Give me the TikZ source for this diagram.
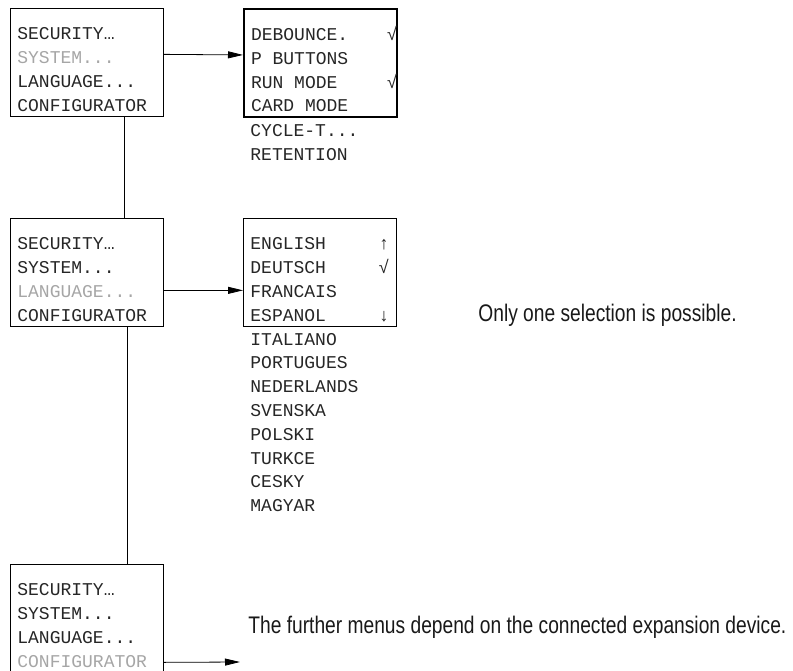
\documentclass[tikz,border=0pt]{standalone}
\usepackage{fontspec}
\usetikzlibrary{positioning,arrows.meta}
\newfontfamily\lcdfont{Liberation Mono}
\newfontfamily\notefont[FakeStretch=0.8]{Liberation Sans}
\newcommand{\lcd}{\lcdfont\fontsize{18}{23.8}\selectfont}
\newcommand{\dimmed}[1]{\textcolor{black!35}{#1}}
\newcommand{\chk}{\makebox[3pt][l]{√}}
\newcommand{\blank}{\hphantom{X}}

\begin{document}
\begin{tikzpicture}[x=1pt,y=-1pt,line width=0.8pt,
        >={Triangle[length=15pt,width=7pt]},
        menu box/.style={draw,anchor=north west,font=\lcd,text=black!85,
            text width=139pt,align=left,inner xsep=7pt,inner ysep=0pt,
            text height=31.5pt,text depth=76.4pt},
        menu rest/.style={font=\lcd,text=black!85,text width=139pt,align=left,
            inner xsep=7pt,inner ysep=0pt,text height=18pt},
        note/.style={anchor=west,inner sep=0pt,text=black!90,
            font=\notefont\fontsize{24}{28}\selectfont}]

    \useasboundingbox (0,0) rectangle (793,670);
    \clip (0,0) rectangle (793,670);

    \node[menu box] (m1) at (10,8) {SECURITY…\\\dimmed{SYSTEM...}\\LANGUAGE...\\CONFIGURATOR};
    \node[menu box,line width=2pt] (deb) at (243,8)
        {DEBOUNCE.\hfill\chk\\P\blank BUTTONS\\RUN\blank MODE\hfill\chk\\CARD\blank MODE};
    \node[menu rest,below right=0pt and 0pt of deb.south west] (deb rest) {CYCLE-T...\\RETENTION};

    \node[menu box] (m2) at (10,218) {SECURITY…\\SYSTEM...\\\dimmed{LANGUAGE...}\\CONFIGURATOR};
    \node[menu box] (lang) at (243,218) {ENGLISH\hfill↑\\DEUTSCH\hfill√\\FRANCAIS\\ESPANOL\hfill↓};
    \node[menu rest,below right=0pt and 0pt of lang.south west] (lang rest)
        {ITALIANO\\PORTUGUES\\NEDERLANDS\\SVENSKA\\POLSKI\\TURKCE\\CESKY\\MAGYAR};
    \node[note] (one sel) at (478,315) {Only one selection is possible.};

    \node[menu box] (m3) at (10,564) {SECURITY…\\SYSTEM...\\LANGUAGE...\\\dimmed{CONFIGURATOR}};
    \coordinate (further) at (240,662);
    \node[note] (further note) at (248,627) {The further menus depend on the connected expansion device.};

    \coordinate (drop1) at ([xshift=37.5pt]m1.south);
    \coordinate (drop2) at ([xshift=40.5pt]m2.south);
    \draw (drop1) -- (drop1 |- m2.north);
    \draw (drop2) -- (drop2 |- m3.north);

    \path[->]
    ([yshift=8pt]m1.east) edge ([yshift=8pt]deb.west)
    ([yshift=-18pt]m2.east) edge ([yshift=-18pt]lang.west)
    ([yshift=-44pt]m3.east) edge (further);
\end{tikzpicture}
\end{document}
